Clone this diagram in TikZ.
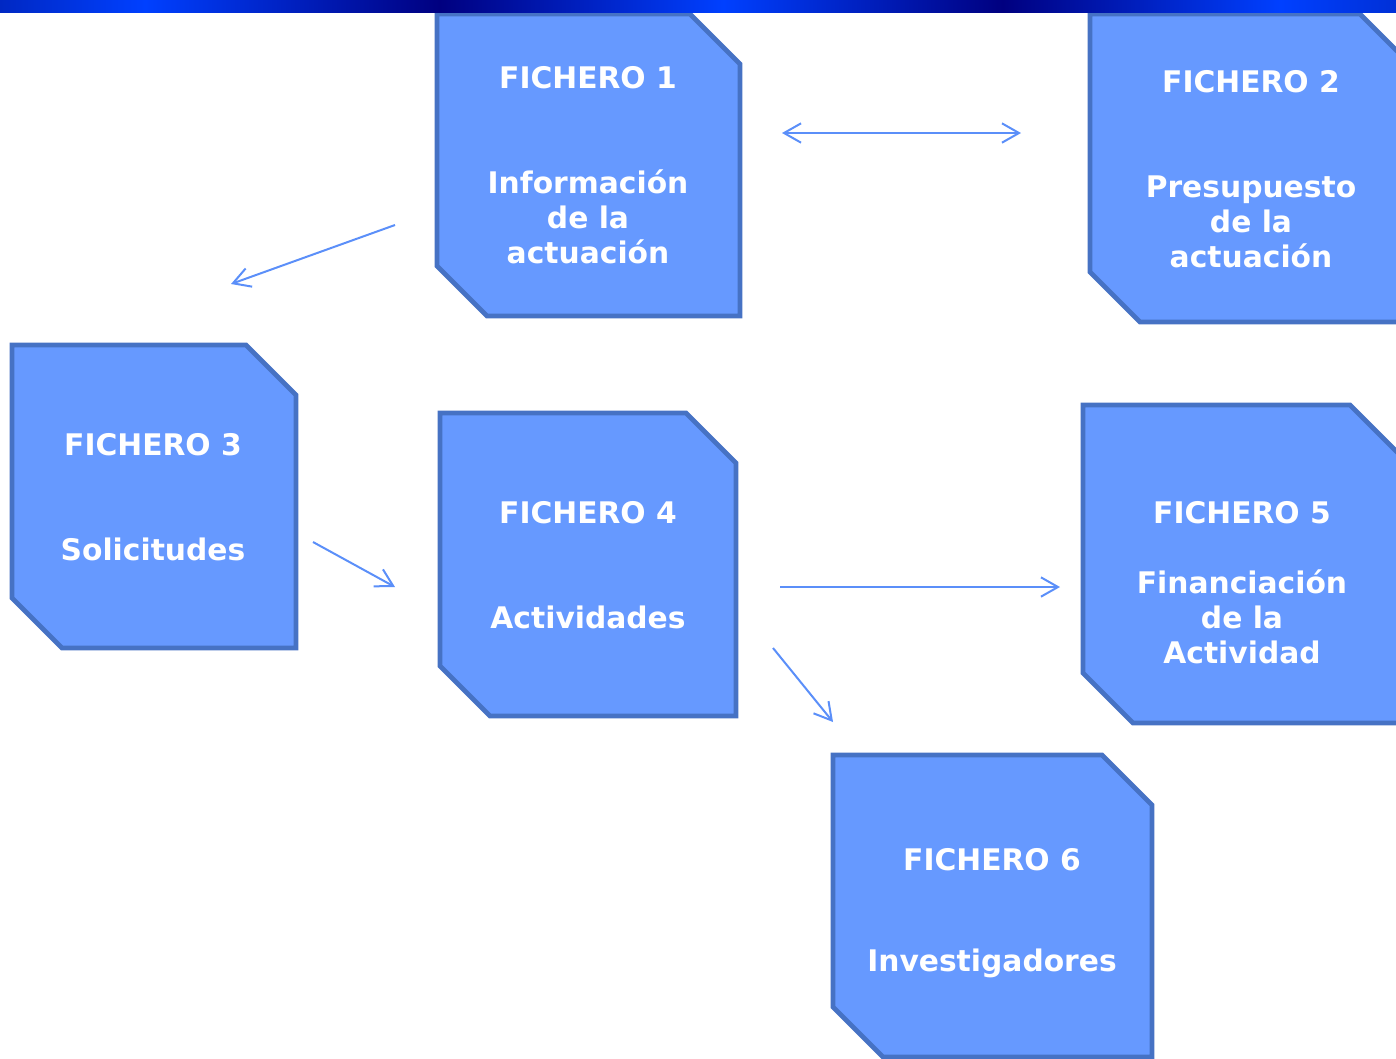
\documentclass[tikz,border=0pt]{standalone}
\usepackage{fontspec}
\setmainfont{DejaVu Sans}
\usetikzlibrary{arrows.meta}

\newdimen\pxu
\pxu=0.75pt

\definecolor{ficheroFill}{RGB}{102,153,255}
\definecolor{ficheroBorde}{RGB}{70,114,196}
\definecolor{flecha}{RGB}{91,143,249}
\definecolor{barraL}{RGB}{0,40,195}
\definecolor{barraClaro}{RGB}{0,64,255}
\definecolor{barraOscuro}{RGB}{0,0,128}
\definecolor{barraR}{RGB}{0,48,215}

\pgfdeclarehorizontalshading{barraShade}{100bp}{color(0bp)=(barraL); color(25bp)=(barraL);
	color(30.2bp)=(barraClaro); color(40.75bp)=(barraOscuro); color(50.9bp)=(barraClaro);
	color(60.9bp)=(barraOscuro); color(70.85bp)=(barraClaro); color(75bp)=(barraR); color(100bp)=(barraR)}

\begin{document}
\begin{tikzpicture}[x=0.75pt, y=-0.75pt,
	fichero/.style={rectangle, inner sep=0pt, outer sep=0pt},
	ficheroborde/.style={draw=ficheroBorde, fill=ficheroFill, line width=3.5pt},
	ficherotext/.style={text=white, align=center, inner sep=0pt, anchor=north,
		font=\fontsize{22.3pt}{26.25pt}\selectfont\bfseries},
	enlace/.style={draw=flecha, line width=1.5pt, -{Straight Barb[length=12.75pt,width=14.5pt]}},
	enlacedoble/.style={enlace, {Straight Barb[length=12.75pt,width=14.5pt]}-{Straight Barb[length=12.75pt,width=14.5pt]}}]

	\useasboundingbox (0,0) rectangle (1396,1058);

	%Ficheros
	\node (f1) at (588.5,165) [fichero, minimum width=303\pxu, minimum height=302\pxu]{};
	\node (f2) at (1250,168) [fichero, minimum width=320\pxu, minimum height=308\pxu]{};
	\node (f3) at (154,496.5) [fichero, minimum width=284\pxu, minimum height=303\pxu]{};
	\node (f4) at (588,564.5) [fichero, minimum width=296\pxu, minimum height=303\pxu]{};
	\node (f5) at (1241.5,564) [fichero, minimum width=317\pxu, minimum height=318\pxu]{};
	\node (f6) at (992.5,906) [fichero, minimum width=319\pxu, minimum height=302\pxu]{};

	%Esquinas cortadas
	\foreach \i in {1,...,6}
		\draw[ficheroborde] (f\i.north west) -- ([xshift=-50\pxu]f\i.north east)
			-- ([yshift=-50\pxu]f\i.north east) -- (f\i.south east)
			-- ([xshift=50\pxu]f\i.south west) -- ([yshift=50\pxu]f\i.south west) -- cycle;

	%Textos
	\node (t1) at (588,66.5) [ficherotext]{FICHERO 1\\[52.5pt]Información\\de la\\actuación};
	\node (t2) at (1251,70.5) [ficherotext]{FICHERO 2\\[52.5pt]Presupuesto\\de la\\actuación};
	\node (t3) at (153,433.5) [ficherotext]{FICHERO 3\\[52.5pt]Solicitudes};
	\node (t4) at (588,501.5) [ficherotext]{FICHERO 4\\[52.5pt]Actividades};
	\node (t5) at (1242,501.5) [ficherotext]{FICHERO 5\\[26.25pt]Financiación\\de la\\Actividad};
	\node (t6) at (992,848.5) [ficherotext]{FICHERO 6\\[49pt]Investigadores};

	%Enlaces
	\coordinate (e12a) at (782,133);
	\coordinate (e12b) at (1021,133);
	\coordinate (e13a) at (395,225);
	\coordinate (e13b) at (231,284);
	\coordinate (e34a) at (313,542);
	\coordinate (e34b) at (395,587);
	\coordinate (e45a) at (780,587);
	\coordinate (e45b) at (1060,587);
	\coordinate (e46a) at (773,648);
	\coordinate (e46b) at (833,722);
	\draw[enlacedoble] (e12a) -- (e12b);
	\draw[enlace] (e13a) -- (e13b);
	\draw[enlace] (e34a) -- (e34b);
	\draw[enlace] (e45a) -- (e45b);
	\draw[enlace] (e46a) -- (e46b);

	%Barra superior
	\fill[shading=barraShade] (0,0) rectangle (1396,12.5);

\end{tikzpicture}
\end{document}
